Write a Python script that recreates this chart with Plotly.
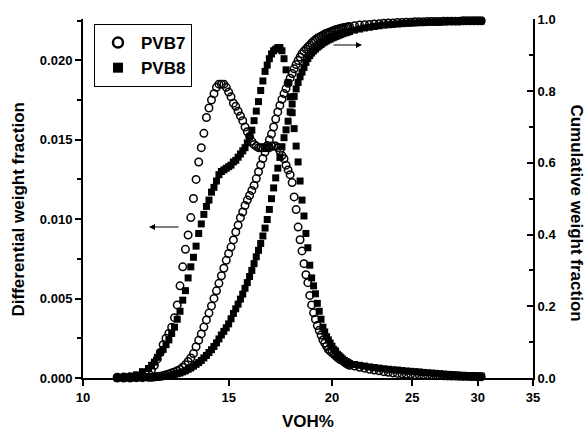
import plotly.graph_objects as go

# VOH% sampling positions
voh = [11.0, 11.2, 11.4, 11.6, 11.8, 12.0,
       12.1, 12.2, 12.3, 12.4, 12.5, 12.6, 12.7, 12.8, 12.9, 13.0,
       13.1, 13.2, 13.3, 13.4, 13.5, 13.6, 13.7, 13.8, 13.9, 14.0,
       14.1, 14.2, 14.3, 14.4, 14.5, 14.6, 14.7, 14.8, 14.9, 15.0,
       15.1, 15.2, 15.3, 15.4, 15.5, 15.6, 15.7, 15.8, 15.9, 16.0,
       16.1, 16.2, 16.3, 16.4, 16.5, 16.6, 16.7, 16.8, 16.9, 17.0,
       17.1, 17.2, 17.3, 17.4, 17.5, 17.6, 17.7, 17.8, 17.9, 18.0,
       18.1, 18.2, 18.3, 18.4, 18.5, 18.6, 18.7, 18.8, 18.9, 19.0,
       19.1, 19.2, 19.3, 19.4, 19.5, 19.6, 19.7, 19.8, 19.9, 20.0,
       20.1, 20.2, 20.3, 20.4, 20.5, 20.6, 20.7, 20.8, 20.9, 21.0,
       21.3, 21.6, 21.9, 22.2, 22.5, 22.8, 23.1, 23.4, 23.7, 24.0,
       24.3, 24.6, 24.9, 25.2, 25.5, 25.8, 26.1, 26.4, 26.7, 27.0,
       27.3, 27.6, 27.9, 28.2, 28.5, 28.8, 29.1, 29.4, 29.7, 30.0,
       30.3]

# Differential weight fraction, PVB7 (open circles)
diff_pvb7 = [0.00005, 0.00006, 0.00008, 0.00011, 0.00018, 0.0003,
             0.0005, 0.0008, 0.0012, 0.0016, 0.0021, 0.0025, 0.0028, 0.0032, 0.0038, 0.0046,
             0.0058, 0.0070, 0.0081, 0.0090, 0.0101, 0.0113, 0.0125, 0.0136, 0.0145, 0.0154,
             0.0164, 0.0170, 0.0175, 0.0179, 0.0183, 0.0185, 0.0185, 0.0185, 0.0183, 0.0180,
             0.0177, 0.0173, 0.0171, 0.0168, 0.0165, 0.0162, 0.0158, 0.0155, 0.0152, 0.0149,
             0.0147, 0.0146, 0.0145, 0.0145, 0.0145, 0.0145, 0.0145, 0.0145, 0.0146, 0.0146,
             0.0146, 0.0145, 0.0143, 0.0140, 0.0138, 0.0134, 0.0131, 0.0128, 0.0123, 0.0114,
             0.0106, 0.0095, 0.0087, 0.0080, 0.0072, 0.0065, 0.0060, 0.0052, 0.0046, 0.0041,
             0.0037, 0.0033, 0.0030, 0.0027, 0.0024, 0.0022, 0.0020, 0.0018, 0.0017, 0.0016,
             0.0015, 0.0014, 0.0013, 0.0012, 0.00115, 0.0011, 0.0010, 0.00093, 0.00086, 0.0008,
             0.00075, 0.00068, 0.00062, 0.00055, 0.0005, 0.00045, 0.0004, 0.00036, 0.00032, 0.00029,
             0.00026, 0.00024, 0.00023, 0.00021, 0.0002, 0.00019, 0.00018, 0.00017, 0.00016, 0.00015,
             0.00014, 0.00013, 0.00012, 0.00012, 0.00011, 0.0001, 0.0001, 0.00009, 0.00009, 0.00008,
             0.00008]

# Differential weight fraction, PVB8 (filled squares)
diff_pvb8 = [0.00003, 0.00005, 0.0001, 0.0002, 0.0004, 0.0006,
             0.0008, 0.0010, 0.0013, 0.0016, 0.0018, 0.0021, 0.0024, 0.0028, 0.0032, 0.0037,
             0.0042, 0.0049, 0.0055, 0.0063, 0.0070, 0.0076, 0.0083, 0.0091, 0.0097, 0.0103,
             0.0108, 0.0112, 0.0117, 0.0120, 0.0124, 0.0128, 0.0130, 0.0131, 0.0132, 0.0133,
             0.0134, 0.0136, 0.0137, 0.0139, 0.0141, 0.0143, 0.0145, 0.0148, 0.0152, 0.0156,
             0.0162, 0.0168, 0.0174, 0.0181, 0.0187, 0.0193, 0.0197, 0.0201, 0.0204, 0.0206,
             0.0207, 0.0208, 0.0208, 0.0206, 0.0201, 0.0194, 0.0186, 0.0177, 0.0167, 0.0157,
             0.0146, 0.0136, 0.0124, 0.0112, 0.0102, 0.0091, 0.0082, 0.0071, 0.0063, 0.0058,
             0.0053, 0.0047, 0.0042, 0.0037, 0.0032, 0.0029, 0.0026, 0.0024, 0.0022, 0.0020,
             0.0018, 0.0017, 0.0015, 0.0014, 0.0013, 0.0012, 0.0011, 0.00104, 0.00098, 0.00092,
             0.00085, 0.0008, 0.00075, 0.0007, 0.00066, 0.00062, 0.00058, 0.00055, 0.00052, 0.0005,
             0.00047, 0.00044, 0.00042, 0.0004, 0.00038, 0.00035, 0.00033, 0.00031, 0.00029, 0.00027,
             0.00025, 0.00023, 0.00021, 0.0002, 0.00018, 0.00017, 0.00016, 0.00015, 0.00014, 0.00013,
             0.00012]

# Cumulative weight fraction, PVB7 (open circles)
cum_pvb7 = [0.0, 0.0, 0.0, 0.001, 0.001, 0.002,
            0.002, 0.003, 0.004, 0.005, 0.007, 0.009, 0.011, 0.014, 0.017, 0.020,
            0.024, 0.030, 0.037, 0.046, 0.056, 0.068, 0.087, 0.105, 0.123, 0.142,
            0.162, 0.181, 0.201, 0.222, 0.243, 0.264, 0.285, 0.306, 0.328, 0.347,
            0.365, 0.385, 0.407, 0.426, 0.447, 0.463, 0.481, 0.496, 0.509, 0.523,
            0.537, 0.556, 0.575, 0.594, 0.612, 0.630, 0.648, 0.664, 0.680, 0.700,
            0.722, 0.742, 0.760, 0.777, 0.793, 0.807, 0.822, 0.836, 0.849, 0.862,
            0.874, 0.885, 0.895, 0.904, 0.911, 0.917, 0.923, 0.928, 0.934, 0.939,
            0.943, 0.947, 0.950, 0.953, 0.956, 0.959, 0.961, 0.963, 0.965, 0.967,
            0.969, 0.971, 0.972, 0.974, 0.975, 0.976, 0.977, 0.978, 0.979, 0.980,
            0.982, 0.984, 0.985, 0.986, 0.987, 0.988, 0.989, 0.990, 0.990, 0.991,
            0.991, 0.992, 0.992, 0.993, 0.993, 0.993, 0.994, 0.994, 0.994, 0.994,
            0.995, 0.995, 0.995, 0.995, 0.995, 0.996, 0.996, 0.996, 0.996, 0.996,
            0.996]

# Cumulative weight fraction, PVB8 (filled squares)
cum_pvb8 = [0.0, 0.0, 0.0, 0.0, 0.001, 0.001,
            0.001, 0.002, 0.002, 0.003, 0.004, 0.005, 0.006, 0.008, 0.010, 0.012,
            0.014, 0.017, 0.020, 0.024, 0.028, 0.033, 0.038, 0.043, 0.049, 0.056,
            0.063, 0.071, 0.079, 0.088, 0.098, 0.109, 0.120, 0.130, 0.140, 0.151,
            0.165, 0.180, 0.193, 0.206, 0.220, 0.234, 0.250, 0.266, 0.283, 0.300,
            0.319, 0.338, 0.356, 0.375, 0.396, 0.418, 0.442, 0.470, 0.500, 0.530,
            0.558, 0.585, 0.615, 0.645, 0.670, 0.692, 0.716, 0.742, 0.764, 0.785,
            0.806, 0.824, 0.840, 0.853, 0.866, 0.880, 0.891, 0.899, 0.906, 0.912,
            0.917, 0.922, 0.926, 0.930, 0.934, 0.937, 0.940, 0.943, 0.945, 0.948,
            0.950, 0.952, 0.954, 0.956, 0.958, 0.960, 0.962, 0.963, 0.965, 0.966,
            0.970, 0.973, 0.976, 0.978, 0.980, 0.982, 0.984, 0.985, 0.986, 0.987,
            0.988, 0.989, 0.990, 0.990, 0.991, 0.991, 0.992, 0.992, 0.993, 0.993,
            0.993, 0.994, 0.994, 0.994, 0.994, 0.995, 0.995, 0.995, 0.995, 0.995,
            0.995]

x_ticks = [10, 15, 20, 25, 30, 35]
series_names = ["PVB7", "PVB8"]

FONT = "Liberation Sans, Arial, Helvetica, sans-serif"
BLACK = "#000000"

circle = dict(symbol="circle-open", size=7.5, color=BLACK, line=dict(width=1.5, color=BLACK))
square = dict(symbol="square", size=7, color=BLACK, line=dict(width=0))

fig = go.Figure()
fig.add_trace(go.Scatter(x=voh, y=diff_pvb7, mode="markers", marker=circle,
                         showlegend=False, cliponaxis=False, yaxis="y"))
fig.add_trace(go.Scatter(x=voh, y=diff_pvb8, mode="markers", marker=square,
                         showlegend=False, cliponaxis=False, yaxis="y"))
fig.add_trace(go.Scatter(x=voh, y=cum_pvb7, mode="markers", marker=circle,
                         showlegend=False, cliponaxis=False, yaxis="y2"))
fig.add_trace(go.Scatter(x=voh, y=cum_pvb8, mode="markers", marker=square,
                         showlegend=False, cliponaxis=False, yaxis="y2"))
# legend entries
fig.add_trace(go.Scatter(x=[None], y=[None], mode="markers", name=series_names[0],
                         marker=dict(symbol="circle-open", size=10, color=BLACK,
                                     line=dict(width=2.5, color=BLACK))))
fig.add_trace(go.Scatter(x=[None], y=[None], mode="markers", name=series_names[1],
                         marker=dict(symbol="square", size=10, color=BLACK)))

tickfont = dict(family=FONT, size=13, color=BLACK, weight="bold")
titlefont = dict(family=FONT, size=17, color=BLACK, weight="bold")

fig.update_layout(
    width=587, height=430,
    margin=dict(l=83, r=54, t=19, b=52),
    paper_bgcolor="white", plot_bgcolor="white",
    font=dict(family=FONT, color=BLACK),
    xaxis=dict(type="log", range=[1.0, 1.544068], tickvals=x_ticks,
               ticktext=[str(v) for v in x_ticks],
               ticks="outside", ticklen=6, tickwidth=2, tickcolor=BLACK,
               showline=True, linewidth=2, linecolor=BLACK, mirror=False,
               showgrid=False, zeroline=False, tickfont=tickfont),
    yaxis=dict(range=[0, 0.0226], tick0=0, dtick=0.005, tickformat=".3f",
               ticks="outside", ticklen=6, tickwidth=2, tickcolor=BLACK,
               minor=dict(dtick=0.0025, tick0=0, ticks="outside", ticklen=4,
                          tickwidth=2, tickcolor=BLACK, showgrid=False),
               showline=True, linewidth=2, linecolor=BLACK,
               showgrid=False, zeroline=False, tickfont=tickfont),
    yaxis2=dict(overlaying="y", side="right", range=[0, 1.001], tick0=0, dtick=0.2,
                tickformat=".1f", ticks="inside", ticklen=6, tickwidth=2, tickcolor=BLACK,
                minor=dict(dtick=0.1, tick0=0, ticks="inside", ticklen=4,
                           tickwidth=2, tickcolor=BLACK, showgrid=False),
                showline=True, linewidth=2, linecolor=BLACK,
                showgrid=False, zeroline=False, tickfont=tickfont),
    showlegend=True,
    legend=dict(x=0.0244, y=0.986, xanchor="left", yanchor="top",
                bordercolor=BLACK, borderwidth=1, bgcolor="white",
                font=dict(family=FONT, size=17, color=BLACK, weight="bold"),
                itemsizing="trace", itemwidth=36, tracegroupgap=0),
    annotations=[
        dict(text="VOH%", xref="paper", yref="paper", x=0.5, y=-0.12,
             xanchor="center", yanchor="middle", showarrow=False, font=titlefont),
        dict(text="Differential weight fraction", xref="paper", yref="paper",
             x=-0.1433, y=0.468, xanchor="center", yanchor="middle",
             textangle=-90, showarrow=False, font=titlefont),
        dict(text="Cumulative weight fraction", xref="paper", yref="paper",
             x=1.0965, y=0.46, xanchor="center", yanchor="middle",
             textangle=90, showarrow=False, font=titlefont),
        dict(text="", xref="paper", yref="paper", x=0.1467, y=0.4206,
             ax=31, ay=0, axref="pixel", ayref="pixel", showarrow=True,
             arrowhead=2, arrowsize=1, arrowwidth=1.2, arrowcolor=BLACK),
        dict(text="", xref="paper", yref="paper", x=0.62, y=0.9276,
             ax=-30, ay=0, axref="pixel", ayref="pixel", showarrow=True,
             arrowhead=2, arrowsize=1, arrowwidth=1.2, arrowcolor=BLACK),
    ],
)

fig.write_html("out.html")
